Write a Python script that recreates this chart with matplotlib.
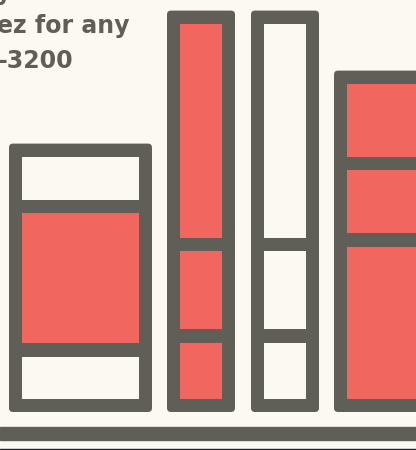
import matplotlib
matplotlib.use("Agg")
import matplotlib.pyplot as plt
from matplotlib.patches import FancyBboxPatch

# segment heights of each bar, bottom to top
bar_segments = [
    [42, 130, 43],
    [56, 78, 214],
    [56, 78, 214],
    [152, 63, 73],
]
# which segments are coloured red (others are left blank)
segment_filled = [
    [False, True, False],
    [True, True, True],
    [False, False, False],
    [True, True, True],
]
text_lines = ["y", "ez for any", "-3200"]

BG = "#fcf9f2"
DARK = "#5f5f58"
RED = "#f1675f"

bar_left = [9, 167, 251, 334]
bar_width = [143, 68, 68, 150]
border = 13.2
sep = 13.5

fig = plt.figure(figsize=(4.16, 4.5), dpi=100)
fig.patch.set_facecolor(BG)
ax = fig.add_axes([0, 0, 1, 1])
ax.set_facecolor(BG)
ax.set_xlim(0, 416)
ax.set_ylim(-38, 412)
ax.axis("off")

for left, w, segs, fills in zip(bar_left, bar_width, bar_segments, segment_filled):
    total = 2 * border + sum(segs) + sep * (len(segs) - 1)
    frame = FancyBboxPatch((left, 0), w, total,
                           boxstyle="round,pad=0,rounding_size=4",
                           facecolor=DARK, edgecolor="none", zorder=1)
    ax.add_patch(frame)
    bottom = border
    for h, f in zip(segs, fills):
        ax.bar(left + border, h, width=w - 2 * border, bottom=bottom,
               align="edge", color=RED if f else BG, edgecolor="none", zorder=2)
        bottom += h + sep

# ground line
ax.axhspan(-28, -15, color=DARK, zorder=1)
ax.axhspan(-38, -36.5, color="#222222", zorder=1)

# text fragment at top left (cut by the image edge, as in the source)
ax.text(-4, 412, text_lines[0], fontsize=17, fontweight="bold",
        color=DARK, va="baseline", ha="left")
ax.text(-3, 379, text_lines[1], fontsize=17, fontweight="bold",
        color=DARK, va="baseline", ha="left")
ax.text(-2, 344.5, text_lines[2], fontsize=17, fontweight="bold",
        color=DARK, va="baseline", ha="left")

fig.savefig("out.png", dpi=100, facecolor=BG)
